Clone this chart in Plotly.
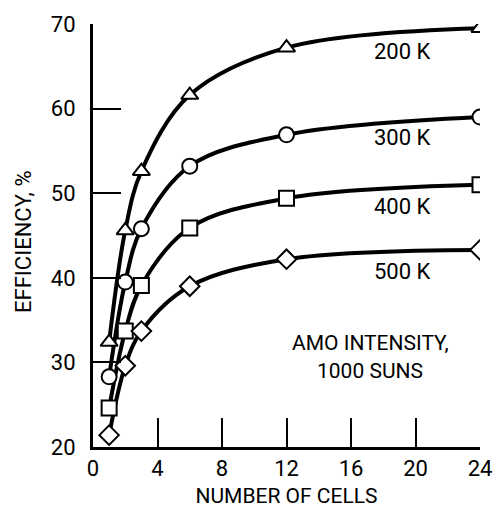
import plotly.graph_objects as go

cells = [1, 2, 3, 6, 12, 24]
eff_200K = [32.4, 45.6, 52.6, 61.6, 67.2, 69.5]
eff_300K = [28.3, 39.5, 45.8, 53.2, 56.9, 59.0]
eff_400K = [24.6, 33.7, 39.1, 45.9, 49.4, 51.0]
eff_500K = [21.4, 29.6, 33.7, 39.0, 42.2, 43.3]

series = [
    ("200 K", eff_200K, "triangle-up", 66.7),
    ("300 K", eff_300K, "circle", 56.6),
    ("400 K", eff_400K, "square", 48.4),
    ("500 K", eff_500K, "diamond", 40.7),
]

FONT = "Roboto"
BLACK = "black"

fig = go.Figure()
for name, vals, sym, ly in series:
    fig.add_trace(go.Scatter(
        x=cells, y=vals, mode="lines",
        line=dict(color=BLACK, width=4, shape="spline", smoothing=1.0),
        showlegend=False, hoverinfo="skip"))
for name, vals, sym, ly in series:
    fig.add_trace(go.Scatter(
        x=cells, y=vals, mode="markers", name=name,
        marker=dict(symbol=sym, size=15, color="white",
                    line=dict(color=BLACK, width=2)),
        showlegend=False))
    fig.add_annotation(x=19.2, y=ly, text=name, showarrow=False,
                       font=dict(size=22, family=FONT, color=BLACK),
                       xanchor="center", yanchor="middle")

fig.add_annotation(x=17.2, y=32.3, text="AMO INTENSITY,", showarrow=False,
                   font=dict(size=21, family=FONT, color=BLACK),
                   xanchor="center", yanchor="middle")
fig.add_annotation(x=17.2, y=29.0, text="1000 SUNS", showarrow=False,
                   font=dict(size=21, family=FONT, color=BLACK),
                   xanchor="center", yanchor="middle")
fig.add_annotation(xref="paper", yref="paper", x=-0.178, y=0.485,
                   text="EFFICIENCY, %", textangle=-90, showarrow=False,
                   font=dict(size=22, family=FONT, color=BLACK),
                   xanchor="center", yanchor="middle")

fig.update_xaxes(
    range=[0, 24], tickvals=[0, 4, 8, 12, 16, 20, 24],
    ticks="inside", ticklen=29, tickwidth=2, tickcolor=BLACK,
    showline=True, linecolor=BLACK, linewidth=3, showgrid=False, zeroline=False,
    tickfont=dict(size=22, family=FONT, color=BLACK),
    automargin=False,
    title=dict(text="NUMBER OF CELLS", font=dict(size=21, family=FONT, color=BLACK), standoff=8),
)
fig.update_yaxes(
    range=[20, 70], tickvals=[20, 30, 40, 50, 60, 70],
    ticks="inside", ticklen=28, tickwidth=2, tickcolor=BLACK,
    showline=True, linecolor=BLACK, linewidth=3, showgrid=False, zeroline=False,
    tickfont=dict(size=22, family=FONT, color=BLACK),
    automargin=False,
    ticklabelstandoff=10,
)
fig.update_layout(
    width=494, height=511,
    margin=dict(l=93, r=14, t=24, b=64),
    paper_bgcolor="white", plot_bgcolor="white",
    font=dict(family=FONT, color=BLACK),
)
fig.write_html("out.html")
